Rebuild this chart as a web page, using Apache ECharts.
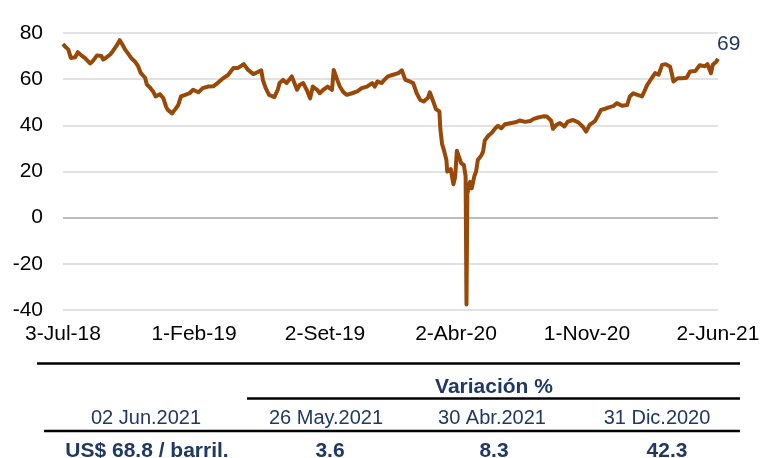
<!DOCTYPE html>
<html>
<head>
<meta charset="utf-8">
<script src="https://cdn.jsdelivr.net/npm/echarts/dist/echarts.min.js"></script>
<style>
  html, body { margin: 0; padding: 0; background: #fff; }
  #main { width: 763px; height: 458px; }
</style>
</head>
<body>
<div id="main"></div>
<script>
// trading-day index (0 = 3-Jul-18, 750 = 2-Jun-21) and WTI price, US$/barril
var dayIdx = [0,2,6,9,14,17,21,25,31,34,39,44,46,49,54,57,61,65,68,71,74,78,82,86,89,94,96,100,103,106,
  111,115,118,120,125,128,132,135,140,145,149,155,160,166,172,177,182,189,195,200,207,212,218,222,227,229,232,236,242,246,
  248,252,256,262,268,271,275,279,283,286,291,294,298,303,308,310,314,317,321,325,331,337,342,348,354,357,360,365,368,372,
  378,384,388,392,397,401,405,409,413,418,420,424,427,431,432,434,436,439,440,442,444,447,449,451,454,456,459,461,462,463,
  465,466,467,468,470,471,473,475,479,481,483,487,491,495,498,502,506,512,518,523,529,535,539,544,550,554,559,561,565,569,
  574,578,584,590,595,599,603,609,613,616,621,625,630,634,640,646,649,653,657,663,669,674,678,682,686,690,695,697,699,704,
  709,714,718,724,729,735,738,742,744,748,750];
var wti = [75.2,74.3,72.9,69.2,69.5,71.7,70.3,69.2,66.8,67.8,70.3,70,68.5,69.2,70.7,72.1,74.3,76.9,75,72.9,71.4,69.2,67.8,65.6,62.7,60.6,57.7,56.2,54.8,52.5,
  53.5,51.7,48.1,46.7,45.2,46.7,48.8,52.5,53.2,53.9,55.4,54.3,56.1,56.8,56.9,58.3,60,61.8,64.8,64.8,66.5,64,62.2,62.9,63.8,59.5,56.2,53.2,52.2,55.5,
  58.3,59.7,58.3,61.2,55.4,57.5,58.3,55.4,51.7,56.8,55.4,53.9,55.4,56.8,55.4,64,59.7,56.8,54.4,53.2,53.9,54.7,56.1,56.8,58.3,56.8,59,58.3,59.7,61.2,
  61.9,62.6,63.8,59.7,59,58.3,53.9,51,50.3,52,54.3,50.3,47,46,38.7,32,29.5,25,20,20,21,14.5,17.5,29,25.7,23.5,22.8,18,-37.6,10.5,
  13.5,15.5,14,12.7,13.5,18,20,25,27,28.6,33.5,35.5,36.8,38.7,39.8,38.7,40.5,40.9,41.3,42.1,41.5,41.9,42.8,43.4,43.9,43.8,42,38.5,40.2,41,
  39.5,41.6,42.3,41.3,39.5,37.3,40.2,41.8,44.5,46.7,47.2,47.8,48.3,49.6,48.5,48.8,52.5,53.9,53.3,52.5,57.5,60.4,62.6,61.9,66.2,66.5,65.5,62.6,59,60.4,
  60.4,60.6,63.3,63.5,66,65.6,66.5,62.6,66.2,67.5,68.8];
var xTickLabels = ['3-Jul-18','1-Feb-19','2-Set-19','2-Abr-20','1-Nov-20','2-Jun-21'];
var yTicks = [-40,-20,0,20,40,60,80];

// table under the chart
var tableHeader = 'Variación %';
var tableDates = ['02 Jun.2021','26 May.2021','30 Abr.2021','31 Dic.2020'];
var tableValues = ['US$ 68.8 / barril.','3.6','8.3','42.3'];

var navy = '#1F3864';
var font = '"Liberation Sans", Arial, sans-serif';
var colX = [146, 326, 492, 657];
var valX = [147, 330, 494, 667];

var chart = echarts.init(document.getElementById('main'));

var pts = [];
for (var i = 0; i < dayIdx.length; i++) pts.push([dayIdx[i], wti[i]]);

var gridColors = yTicks.map(function (t) { return t === 0 ? '#A6A6A6' : '#D9D9D9'; });

var graphics = [
  { type: 'line', shape: { x1: 37, y1: 363.5, x2: 740, y2: 363.5 }, style: { stroke: '#000', lineWidth: 2.5 } },
  { type: 'line', shape: { x1: 247, y1: 398.5, x2: 740, y2: 398.5 }, style: { stroke: '#000', lineWidth: 2.5 } },
  { type: 'line', shape: { x1: 44, y1: 431, x2: 740, y2: 431 }, style: { stroke: '#000', lineWidth: 2.5 } },
  { type: 'text', x: 494, y: 387, style: { text: tableHeader, fill: navy, font: 'bold 21px ' + font, textAlign: 'center', textVerticalAlign: 'middle' } }
];
tableDates.forEach(function (d, k) {
  graphics.push({ type: 'text', x: colX[k], y: 418, style: { text: d, fill: navy, font: '20px ' + font, textAlign: 'center', textVerticalAlign: 'middle' } });
});
tableValues.forEach(function (v, k) {
  graphics.push({ type: 'text', x: valX[k], y: 451, style: { text: v, fill: navy, font: 'bold 21px ' + font, textAlign: 'center', textVerticalAlign: 'middle' } });
});

chart.setOption({
  animation: false,
  backgroundColor: '#fff',
  grid: { left: 63, right: 45, top: 33, bottom: 148 },
  xAxis: {
    type: 'value',
    min: 0,
    max: 750,
    interval: 150,
    axisLine: { show: false },
    axisTick: { show: false },
    splitLine: { show: false },
    axisLabel: {
      margin: 14,
      color: '#000',
      fontSize: 21,
      fontFamily: font,
      showMinLabel: true,
      showMaxLabel: true,
      formatter: function (v) { return xTickLabels[Math.round(v / 150)]; }
    }
  },
  yAxis: {
    type: 'value',
    min: yTicks[0],
    max: yTicks[yTicks.length - 1],
    interval: 20,
    axisLine: { show: false },
    axisTick: { show: false },
    splitLine: { show: true, lineStyle: { color: gridColors, width: 1.5 } },
    axisLabel: {
      margin: 20,
      color: '#000',
      fontSize: 21,
      fontFamily: font
    }
  },
  series: [{
    type: 'line',
    data: pts,
    showSymbol: false,
    symbol: 'none',
    lineStyle: { color: '#984807', width: 4, join: 'round' },
    endLabel: {
      show: true,
      formatter: function (p) { return Math.round(p.value[1]); },
      color: navy,
      fontSize: 21,
      fontFamily: font,
      offset: [-9, -15]
    }
  }],
  graphic: graphics
});
</script>
</body>
</html>
